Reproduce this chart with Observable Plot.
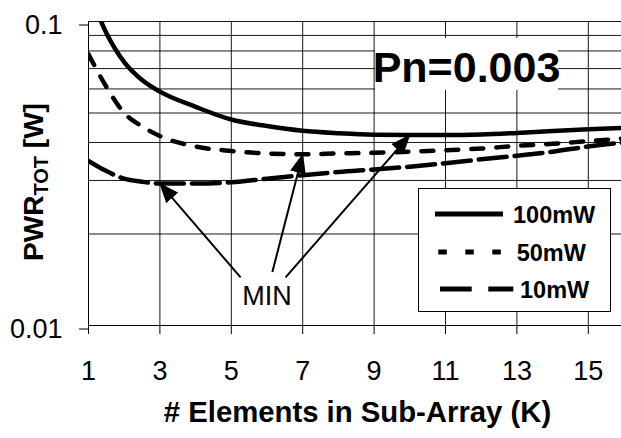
<!DOCTYPE html>
<html><head><meta charset="utf-8">
<script src="https://cdn.jsdelivr.net/npm/d3@7"></script>
<script src="https://cdn.jsdelivr.net/npm/@observablehq/plot@0.6"></script>
<style>
body{margin:0;background:#fff;}
#wrap{position:relative;width:621px;height:438px;}
</style></head><body><div id="wrap"></div>
<script>
// ---- data ----
const K = [1,1.5,2,2.5,3,4,5,6,7,8,9,10,11,12,13,14,15,16];
const pwr100mW = [0.127,0.0916,0.0735,0.0642,0.0588,0.0524,0.0476,0.0453,0.0437,0.0429,0.0424,0.0423,0.0423,0.0425,0.0430,0.0436,0.0442,0.0447];
const pwr50mW  = [0.078,0.061,0.050,0.0452,0.042,0.0388,0.0375,0.0368,0.0366,0.0368,0.0370,0.0373,0.0377,0.0382,0.0390,0.0396,0.0404,0.0412];
const pwr10mW  = [0.0348,0.0322,0.0304,0.0297,0.0293,0.0293,0.0296,0.0304,0.0312,0.0320,0.0326,0.0333,0.0342,0.0352,0.0362,0.0373,0.0388,0.0400];
const seriesNames = ["100mW","50mW","10mW"];
const xTicks = [1,3,5,7,9,11,13,15];
const yTicks = [0.01,0.1];
const yGrid = [0.02,0.03,0.04,0.05,0.06,0.07,0.08,0.09,0.1];
const noteText = "Pn=0.003";
const minText = "MIN";
const minLabelK = 6.0, minLabelV = 0.01248;
const arrowTailK = [5.26,6.15,6.52];
const arrowTailV = [0.0144,0.0150,0.0144];
const xLabel = "# Elements in Sub-Array (K)";

const seriesVals = [pwr100mW, pwr50mW, pwr10mW];
const dashes = [null, "12,13", "28,8"];
const rows = seriesNames.map((s,j)=>K.map((k,i)=>({k, v: seriesVals[j][i], s})));
// arrow tips at each series minimum; arrows: 10mW, 50mW, 100mW
const order = [2,1,0];
const arrows = order.map((j,a)=>{
  const vals = seriesVals[j];
  let mi = 0; vals.forEach((v,i)=>{ if (v < vals[mi]) mi = i; });
  return {x1: arrowTailK[a], y1: arrowTailV[a], x2: K[mi], y2: vals[mi]};
});

const font = "Arial, 'Liberation Sans', sans-serif";
const plot = Plot.plot({
  width: 621, height: 438,
  marginLeft: 88, marginRight: 0, marginTop: 21, marginBottom: 113,
  style: {fontFamily: font, background: "white", color: "black"},
  x: {type: "linear", domain: [1,16], range: [88, 623.5]},
  y: {type: "log", domain: [0.01, 0.1]},
  marks: [
    Plot.ruleX(xTicks.slice(1), {stroke: "black", strokeWidth: 1, strokeOpacity: 0.9}),
    Plot.ruleY(yGrid, {stroke: "black", strokeWidth: 1, strokeOpacity: 0.9}),
    Plot.ruleX([1], {stroke: "black", strokeWidth: 1}),
    Plot.ruleY([0.01], {stroke: "black", strokeWidth: 1}),
    Plot.axisY({ticks: yTicks, tickFormat: d => String(d), tickSize: 9, tickPadding: 17, fontSize: 27, dy: 3.5, label: null, stroke: "black"}),
    Plot.axisX({ticks: xTicks, tickFormat: d => String(d), tickSize: 9, tickPadding: 26, fontSize: 27, label: null, stroke: "black"}),
    ...rows.map((r,j)=>Plot.line(r, {x: "k", y: "v", stroke: "black", strokeWidth: 4.5, strokeDasharray: dashes[j], curve: "monotone-x", clip: true})),
    Plot.link(arrows, {x1: "x1", y1: "y1", x2: "x2", y2: "y2", stroke: "black", strokeWidth: 2}),
    Plot.text([minText], {x: minLabelK, y: minLabelV, text: d => d, fontSize: 27, fill: "black"})
  ]
});
document.getElementById("wrap").appendChild(plot);

// ---- annotations (arrowheads, labels, legend) ----
const svg = d3.select(plot);
const defs = svg.append("defs");
defs.append("marker").attr("id","ahead").attr("viewBox","0 0 20 16").attr("refX",19).attr("refY",8)
  .attr("markerWidth",20).attr("markerHeight",16).attr("markerUnits","userSpaceOnUse").attr("orient","auto")
  .append("path").attr("d","M0,0 L20,8 L0,16 Z").attr("fill","black");
svg.selectAll('g[aria-label="link"] path').attr("marker-end","url(#ahead)");

// Pn box
svg.append("rect").attr("x",375).attr("y",38).attr("width",183).attr("height",52).attr("fill","white");
svg.append("text").attr("x",466.5).attr("y",81.5).attr("text-anchor","middle")
  .attr("font-family",font).attr("font-weight","bold").attr("font-size",43).text(noteText);

// y label
const yl = svg.append("text").attr("transform","translate(43,182) rotate(-90)").attr("text-anchor","middle")
  .attr("font-family",font).attr("font-weight","bold").attr("font-size",28);
yl.append("tspan").text("PWR");
yl.append("tspan").attr("font-size",20).attr("dy",5).text("TOT");
yl.append("tspan").attr("dy",-5).text(" [W]");

// x label
svg.append("text").attr("x",357.5).attr("y",422).attr("text-anchor","middle")
  .attr("font-family",font).attr("font-weight","bold").attr("font-size",29.3).text(xLabel);

// legend
const lg = svg.append("g").attr("text-anchor","start");
lg.append("rect").attr("x",418.5).attr("y",188.5).attr("width",192).attr("height",123)
  .attr("fill","white").attr("stroke","black").attr("stroke-width",1);
const legY = [214, 252, 289];
const legX1 = [435, 438.3, 440], legX2 = [503, 503, 513.3], legTx = [513, 516.7, 520];
const legDash = [null, "8.5,18.5", "31.7,16.6"];
seriesNames.forEach((s,j)=>{
  const l = lg.append("line").attr("x1",legX1[j]).attr("x2",legX2[j]).attr("y1",legY[j]).attr("y2",legY[j])
    .attr("stroke","black").attr("stroke-width",5);
  if (legDash[j]) l.attr("stroke-dasharray",legDash[j]);
  lg.append("text").attr("x",legTx[j]).attr("y",legY[j]+8.5).attr("text-anchor","start").attr("font-family",font)
    .attr("font-weight","bold").attr("font-size",23.5).text(s);
});
</script></body></html>
